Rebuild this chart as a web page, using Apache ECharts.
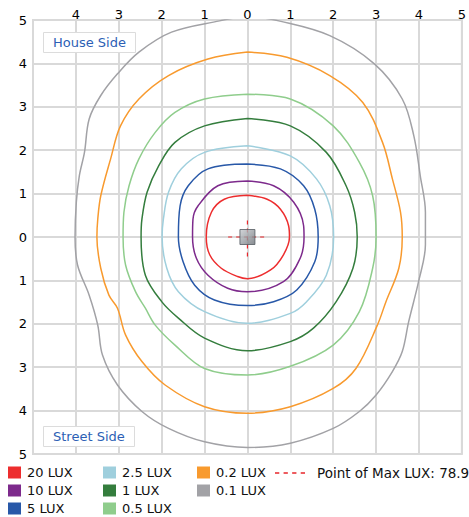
<!DOCTYPE html>
<html><head><meta charset="utf-8">
<script src="https://cdn.jsdelivr.net/npm/echarts@6/dist/echarts.min.js"></script>
<style>html,body{margin:0;padding:0;background:#fff}#c{width:469px;height:517px}</style>
</head><body><div id="c"></div>
<script>
const levels = ['20 LUX','10 LUX','5 LUX','2.5 LUX','1 LUX','0.5 LUX','0.2 LUX','0.1 LUX'];
const levelColors = ['#ed2d2e','#7d2a8c','#2858a8','#9fcfdd','#347d3d','#8fcd8c','#f89a2e','#a2a2a6'];
const lux20 = [[0,0.96],[-0.54,0.87],[-0.84,0.57],[-0.96,0],[-0.88,-0.41],[-0.61,-0.72],[-0.23,-0.91],[0,-0.96],[0.54,-0.76],[0.84,-0.41],[0.98,0],[0.96,0.26],[0.77,0.64],[0.46,0.87],[0,0.96]];
const lux10 = [[0,1.29],[-0.69,1.18],[-1.15,0.72],[-1.27,0.41],[-1.28,0],[-1.19,-0.49],[-0.92,-0.88],[-0.46,-1.18],[0,-1.26],[0.84,-1.03],[1.23,-0.49],[1.32,0],[1.31,0.26],[1.08,0.80],[0.61,1.18],[0,1.29]];
const lux5 = [[0,1.68],[-0.92,1.57],[-1.38,1.18],[-1.57,0.72],[-1.61,0],[-1.50,-0.57],[-1.23,-1.11],[-0.77,-1.45],[0,-1.58],[0.61,-1.49],[1.15,-1.22],[1.57,-0.57],[1.65,0],[1.57,0.64],[1.31,1.18],[0.77,1.57],[0,1.68]];
const lux2_5 = [[0,2.10],[-1.0,1.95],[-1.54,1.57],[-1.84,1.03],[-1.96,0.41],[-1.99,0],[-1.88,-0.72],[-1.61,-1.26],[-1.0,-1.72],[0,-1.99],[1.0,-1.76],[1.38,-1.49],[1.84,-0.88],[2.01,0],[1.92,0.72],[1.61,1.34],[1.0,1.87],[0,2.10]];
const lux1 = [[0,2.73],[-1.0,2.56],[-1.69,2.18],[-2.07,1.64],[-2.34,1.03],[-2.46,0.41],[-2.48,0],[-2.38,-0.88],[-2.0,-1.49],[-1.61,-1.87],[-1.0,-2.33],[0,-2.62],[1.0,-2.41],[1.54,-2.10],[2.07,-1.49],[2.46,-0.72],[2.56,0],[2.50,0.57],[2.30,1.18],[1.84,1.95],[1.0,2.56],[0,2.73]];
const lux0_5 = [[0,3.29],[-1.0,3.18],[-1.69,2.87],[-2.15,2.41],[-2.53,1.80],[-2.76,1.18],[-2.88,0.57],[-2.90,0],[-2.84,-0.65],[-2.61,-1.26],[-2.38,-1.64],[-2.15,-2.03],[-1.69,-2.49],[-1.0,-3.03],[0,-3.18],[1.0,-2.98],[2.0,-2.49],[2.61,-1.72],[2.92,-0.72],[3.0,0],[2.92,0.95],[2.61,1.72],[2.0,2.56],[1.0,3.18],[0,3.29]];
const lux0_2 = [[0,4.26],[-0.92,4.10],[-1.84,3.72],[-2.53,3.18],[-2.96,2.56],[-3.19,1.80],[-3.42,0.95],[-3.49,0.41],[-3.51,0],[-3.42,-0.72],[-3.23,-1.34],[-3.03,-1.64],[-2.84,-2.26],[-2.46,-2.87],[-1.92,-3.41],[-1.0,-3.91],[0,-4.06],[1.0,-3.91],[2.0,-3.49],[2.53,-3.03],[3.03,-2.03],[3.23,-1.49],[3.53,-0.72],[3.61,0],[3.57,0.57],[3.38,1.34],[3.15,2.18],[2.69,3.10],[1.92,3.72],[0.92,4.14],[0,4.26]];
const lux0_1 = [[0,5.1],[-0.65,4.98],[-1.77,4.72],[-2.53,4.26],[-3.03,3.76],[-3.42,3.26],[-3.69,2.72],[-3.80,1.95],[-3.92,1.41],[-3.99,0.80],[-4.02,0],[-3.96,-0.65],[-3.69,-1.34],[-3.49,-2.03],[-3.38,-2.72],[-3.03,-3.41],[-2.46,-4.02],[-1.84,-4.41],[-1.0,-4.72],[0,-4.85],[1.0,-4.75],[2.0,-4.41],[2.61,-4.02],[3.0,-3.64],[3.38,-3.10],[3.61,-2.64],[3.76,-1.95],[3.99,-1.03],[4.15,-0.18],[4.15,0.57],[4.03,1.41],[3.88,2.33],[3.61,3.18],[2.96,3.99],[1.92,4.64],[0.73,4.98],[0,5.1]];
const contours = [lux20, lux10, lux5, lux2_5, lux1, lux0_5, lux0_2, lux0_1];
const maxLabel = 'Point of Max LUX: 78.9';
const maxPoint = [[0,0]];
const crossH = [[-0.45,0],[0.45,0]];
const crossV = [[0,-0.45],[0,0.45]];
const axisMin = -5, axisMax = 5, axisStep = 1;
const sideLabels = ['House Side','Street Side'];

const FONT = 'DejaVu Sans';
const chart = echarts.init(document.getElementById('c'), null, {renderer:'svg'});
const series = contours.map((d,i)=>({
  type:'line', name:levels[i], data:d, smooth:0.35, symbol:'none',
  lineStyle:{color:levelColors[i], width:1.5}, itemStyle:{color:levelColors[i]},
  z:2, silent:true
}));
series.push({type:'line', name:maxLabel, data:crossH, symbol:'none',
  lineStyle:{color:'#e8262b', width:1.2, type:[4,4]}, itemStyle:{color:'#e8262b'}, z:3});
series.push({type:'line', name:maxLabel, data:crossV, symbol:'none',
  lineStyle:{color:'#e8262b', width:1.2, type:[4,4]}, itemStyle:{color:'#e8262b'}, z:3});
series.push({type:'scatter', name:'max', data:maxPoint, symbol:'rect', symbolSize:15, z:4,
  itemStyle:{color:new echarts.graphic.LinearGradient(0,0,1,1,[{offset:0,color:'#c9ccd0'},{offset:1,color:'#6a7076'}]), borderColor:'#555b62', borderWidth:1}});

const dashIcon = 'path://M0,0h4v1.3h-4zM8,0h4v1.3h-4zM16,0h4v1.3h-4zM24,0h4v1.3h-4z';
const legendBase = {orient:'vertical', top:466, itemGap:5, itemWidth:13, itemHeight:12, icon:'rect',
  selectedMode:false, padding:0, textStyle:{fontFamily:FONT, fontSize:13, color:'#111', padding:[0,0,0,1]}};
const axisLabelBase = {formatter:v=>String(Math.abs(v)), fontFamily:FONT, fontSize:13, color:'#000'};
const split = {show:true, lineStyle:{color:'#d9d9d9', width:2}};

chart.setOption({
  animation:false,
  backgroundColor:'#fff',
  title: sideLabels.map((t,i)=>({text:t, left:43, top: i===0 ? 32 : 426, padding:[3,10],
    borderColor:'#dcdcdc', borderWidth:1, backgroundColor:'#fff',
    textStyle:{fontFamily:FONT, fontSize:13, fontWeight:'normal', color:'#2d5fb5', lineHeight:15}})),
  grid:{left:33, right:2, top:20, bottom:63, show:true, borderColor:'#d9d9d9', borderWidth:2, backgroundColor:'#fff'},
  xAxis:{type:'value', position:'top', min:axisMin, max:axisMax, interval:axisStep,
    axisLabel:Object.assign({}, axisLabelBase, {margin:-1, showMinLabel:false}),
    axisLine:{show:false}, axisTick:{show:false}, splitLine:split},
  yAxis:{type:'value', min:axisMin, max:axisMax, interval:axisStep,
    axisLabel:Object.assign({}, axisLabelBase, {margin:6}),
    axisLine:{show:false}, axisTick:{show:false}, splitLine:split},
  legend:[
    Object.assign({}, legendBase, {left:8, data:levels.slice(0,3)}),
    Object.assign({}, legendBase, {left:103, data:levels.slice(3,6)}),
    Object.assign({}, legendBase, {left:197, data:levels.slice(6,8)}),
    Object.assign({}, legendBase, {left:275, itemWidth:30, itemHeight:12, icon:dashIcon, data:[{name:maxLabel}],
      itemStyle:{color:'#e8262b'},
      textStyle:{fontFamily:FONT, fontSize:13.5, color:'#111', padding:[0,0,0,7]}})
  ],
  series:series
});
</script></body></html>
